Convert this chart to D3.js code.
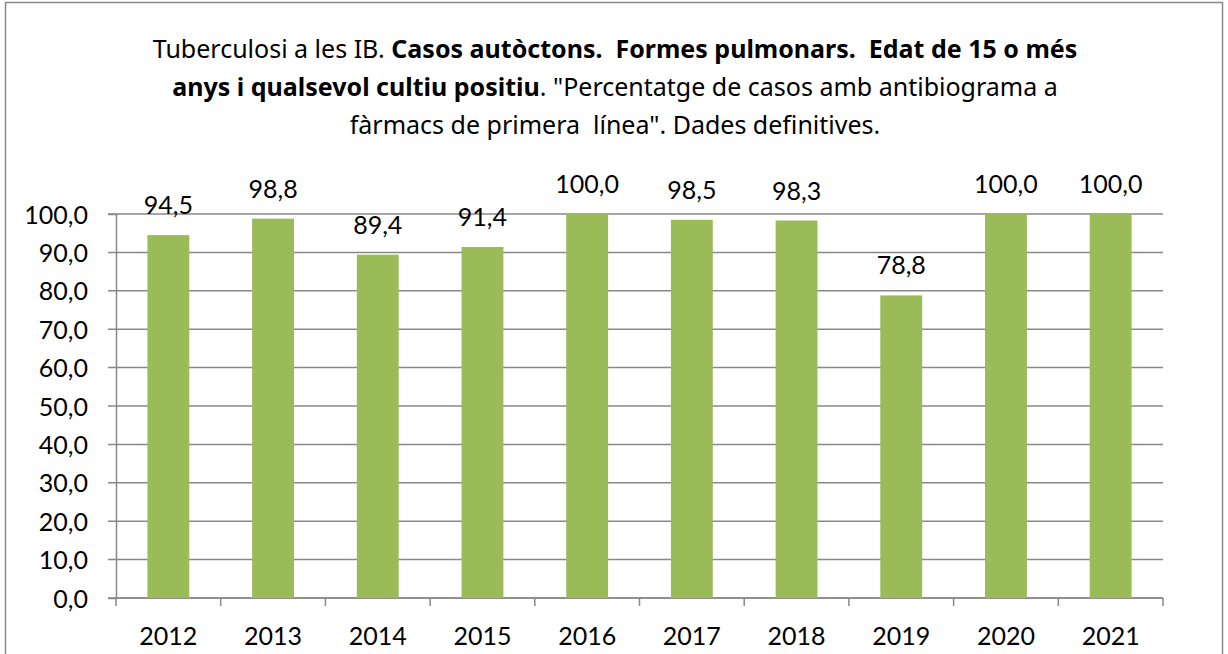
<!DOCTYPE html>
<html>
<head>
<meta charset="utf-8">
<script src="https://cdn.jsdelivr.net/npm/d3@7"></script>
<style>
  body { margin: 0; background: #fff; }
  svg { display: block; }
</style>
</head>
<body>
<div id="chart"></div>
<script>
// data
var years = ["2012", "2013", "2014", "2015", "2016", "2017", "2018", "2019", "2020", "2021"];
var values = [94.5, 98.8, 89.4, 91.4, 100.0, 98.5, 98.3, 78.8, 100.0, 100.0];
var yTicks = [0, 10, 20, 30, 40, 50, 60, 70, 80, 90, 100];

var W = 1228, H = 654;
var margin = {top: 214, right: 65, bottom: 56, left: 116},
    width = W - margin.left - margin.right,
    height = H - margin.top - margin.bottom;

var svg = d3.select("#chart")
  .append("svg")
    .attr("width", W)
    .attr("height", H);

// outer frame
svg.append("rect")
  .attr("x", 5.5).attr("y", 2.5)
  .attr("width", 1217).attr("height", 670)
  .attr("fill", "none")
  .attr("stroke", "#898989")
  .attr("stroke-width", 1.5);

// title (mixed weights)
var titleLines = [
  [["Tuberculosi a les IB. ", 400], ["Casos autòctons.  Formes pulmonars.  Edat de 15 o més", 700]],
  [["anys i qualsevol cultiu positiu", 700], [". \"Percentatge de casos amb antibiograma a", 400]],
  [["fàrmacs de primera  línea\". Dades definitives.", 400]]
];
var title = svg.append("text")
  .attr("text-anchor", "middle")
  .attr("font-family", "'Noto Sans', 'Open Sans', sans-serif")
  .attr("font-size", 25)
  .attr("fill", "#000")
  .style("white-space", "pre");
titleLines.forEach(function(line, i) {
  line.forEach(function(part, j) {
    var t = title.append("tspan")
      .attr("font-weight", part[1])
      .text(part[0]);
    if (j === 0) t.attr("x", 615).attr("y", 58 + i * 38);
  });
});

var g = svg.append("g")
  .attr("transform", "translate(" + margin.left + "," + margin.top + ")");

var x = d3.scaleBand()
  .domain(years)
  .range([0, width])
  .paddingInner(0.6)
  .paddingOuter(0.3);

var xb = d3.scaleBand()
  .domain(years)
  .range([0, width]);

var y = d3.scaleLinear()
  .domain([0, 100])
  .range([height, 0]);

// gridlines
g.selectAll(".grid")
  .data(yTicks)
  .enter().append("line")
    .attr("x1", -8).attr("x2", width)
    .attr("y1", function(d) { return y(d); })
    .attr("y2", function(d) { return y(d); })
    .attr("stroke", "#898989")
    .attr("stroke-width", 1.5);

// y axis
var yAxis = g.append("g")
  .call(d3.axisLeft(y).tickValues(yTicks).tickSize(8).tickPadding(20)
    .tickFormat(function(d) { return d3.format(".1f")(d).replace(".", ","); }));
yAxis.select(".domain").attr("stroke", "#898989").attr("stroke-width", 1.5);
yAxis.selectAll(".tick line").attr("stroke", "none");
yAxis.selectAll("text")
  .attr("font-family", "Lato, 'Open Sans', sans-serif")
  .attr("font-size", 25)
  .attr("fill", "#000")
  .attr("dy", "0.36em");

// x axis with ticks between categories
var xAxis = g.append("g")
  .attr("transform", "translate(0," + height + ")");
xAxis.append("line")
  .attr("x1", 0).attr("x2", width)
  .attr("stroke", "#898989").attr("stroke-width", 1.5);
xAxis.selectAll(".xt")
  .data(years.concat(["end"]))
  .enter().append("line")
    .attr("x1", function(d, i) { return i < years.length ? xb(d) : width; })
    .attr("x2", function(d, i) { return i < years.length ? xb(d) : width; })
    .attr("y1", 0).attr("y2", 8)
    .attr("stroke", "#898989").attr("stroke-width", 1.5);
xAxis.selectAll(".xl")
  .data(years)
  .enter().append("text")
    .attr("x", function(d) { return xb(d) + xb.bandwidth() / 2; })
    .attr("y", 47)
    .attr("text-anchor", "middle")
    .attr("font-family", "Lato, 'Open Sans', sans-serif")
    .attr("font-size", 25)
    .attr("fill", "#000")
    .text(function(d) { return d; });

// bars
g.selectAll(".bar")
  .data(values)
  .enter().append("rect")
    .attr("x", function(d, i) { return x(years[i]); })
    .attr("y", function(d) { return y(d); })
    .attr("width", x.bandwidth())
    .attr("height", function(d) { return height - y(d); })
    .attr("fill", "#9BBB59");

// value labels
g.selectAll(".lbl")
  .data(values)
  .enter().append("text")
    .attr("x", function(d, i) { return x(years[i]) + x.bandwidth() / 2; })
    .attr("y", function(d) { return y(d) - 21; })
    .attr("text-anchor", "middle")
    .attr("font-family", "Lato, 'Open Sans', sans-serif")
    .attr("font-size", 25)
    .attr("fill", "#000")
    .text(function(d) { return d3.format(".1f")(d).replace(".", ","); });
</script>
</body>
</html>
